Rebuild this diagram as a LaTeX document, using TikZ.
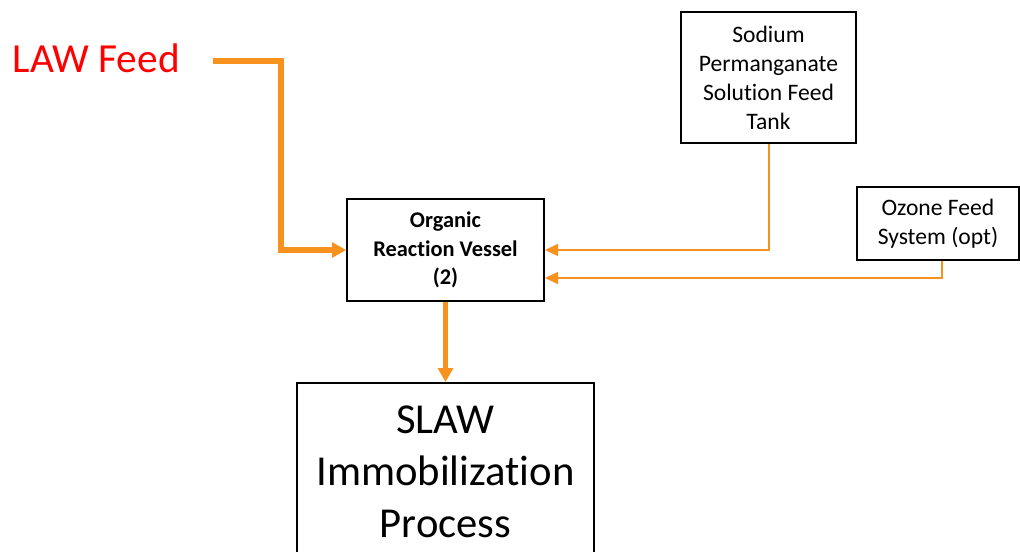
\documentclass[tikz,border=0pt]{standalone}
\usepackage{fontspec}
\setmainfont{Carlito}[Ligatures=NoCommon]
\usepackage{xcolor}
\usetikzlibrary{arrows.meta}
\definecolor{feedorange}{RGB}{247,146,30}
\definecolor{lawred}{RGB}{255,0,0}

\tikzset{
  unitbox/.style={draw=black, line width=1.3pt, align=center, inner sep=0pt},
  mainflow/.style={feedorange, line width=4.2pt, -{Triangle[length=10.5pt,width=11pt]}},
  sideflow/.style={feedorange, line width=1.5pt, -{Triangle[length=10pt,width=9pt]}}
}

\begin{document}
\begin{tikzpicture}[x=0.75pt,y=-0.75pt]
\useasboundingbox (0,0) rectangle (1020,552);

\node[anchor=base west, text=lawred, font=\fontsize{31}{37}\selectfont] (law) at (8,73) {LAW Feed};
\coordinate (lawout) at (213,61);
\coordinate (bend) at (281,250);

\node[unitbox, minimum width=147.75pt, minimum height=76.5pt, font=\fontsize{16.8}{21.4}\selectfont\bfseries] (vessel) at (445.5,250) {Organic\\Reaction Vessel\\(2)};
\node[unitbox, minimum width=131.25pt, minimum height=98.25pt, font=\fontsize{17.7}{21.75}\selectfont] (sodium) at (768.5,77.5) {Sodium\\Permanganate\\Solution Feed\\Tank};
\node[unitbox, minimum width=121.5pt, minimum height=54.75pt, font=\fontsize{17.7}{21.75}\selectfont] (ozone) at (938,223.5) {Ozone Feed\\System (opt)};
\node[unitbox, minimum width=222.75pt, minimum height=132.75pt, font=\fontsize{32}{39}\selectfont] (slaw) at (445.5,471.5) {SLAW\\Immobilization\\Process};

\draw[mainflow] (lawout) -| (bend) -- (vessel.west);
\draw[mainflow] (vessel.south) -- (slaw.north);
\draw[sideflow] (sodium.south) |- (vessel.east);
\draw[sideflow] ([xshift=3pt]ozone.south) |- ([yshift=-21pt]vessel.east);
\end{tikzpicture}
\end{document}
